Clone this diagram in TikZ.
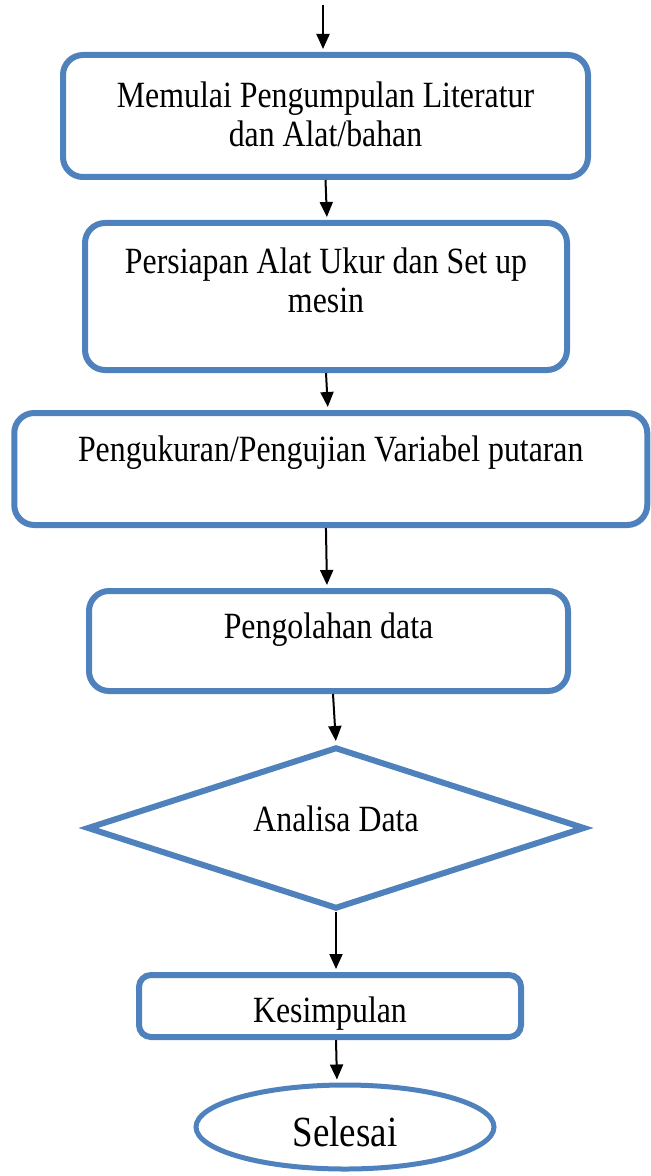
\documentclass[tikz,border=0pt]{standalone}
\usepackage{fontspec}
\setmainfont{Liberation Serif}[FakeStretch=0.86]
\usepackage{tikz}
\usetikzlibrary{arrows.meta,shapes}
\definecolor{biru}{RGB}{79,129,189}
\tikzstyle{panah}=[-{Triangle[length=7.5pt,width=6.5pt]}, line width=1pt, shorten >=1.5pt]

\begin{document}
\begin{tikzpicture}[x=0.5pt,y=-0.5pt,
          kotak/.style={rectangle,rounded corners=10pt,draw=biru,line width=3pt,align=center,
            inner sep=0pt,font=\fontsize{18.5pt}{19.5pt}\selectfont},
          ketupat/.style={diamond,draw=biru,line width=3pt,aspect=3.08,inner sep=0pt,
            font=\fontsize{18.5pt}{19.5pt}\selectfont},
          lonjong/.style={ellipse,draw=biru,line width=2.5pt,inner sep=0pt,
            font=\fontsize{21.5pt}{22pt}\selectfont}]
        \useasboundingbox (0,0) rectangle (651,1176);
        \coordinate (mulai) at (323,5);
        \node [kotak,minimum width=262.5pt,minimum height=61pt,text depth=1.5pt] (literatur) at (325.5,116)
          {Memulai Pengumpulan Literatur\\dan Alat/bahan};
        \node [kotak,minimum width=241pt,minimum height=73.5pt,text depth=16pt] (persiapan) at (326,296.5)
          {Persiapan Alat Ukur dan Set up\\mesin};
        \node [kotak,minimum width=316.5pt,minimum height=56pt,text height=18pt,text depth=25.5pt] (pengukuran) at (330.75,469)
          {Pengukuran/Pengujian Variabel putaran};
        \node [kotak,minimum width=239.5pt,minimum height=50pt,text height=16pt,text depth=18.5pt] (olah) at (328.5,641)
          {Pengolahan data};
        \node [ketupat,minimum width=249pt,minimum height=81pt,text height=16pt,text depth=12.5pt] (analisa) at (336,828)
          {Analisa Data};
        \node [kotak,rounded corners=6pt,minimum width=191pt,minimum height=31pt,text height=17pt,text depth=0.5pt] (simpul) at (330,1006)
          {Kesimpulan};
        \node [lonjong,minimum width=149pt,minimum height=42pt,text height=23pt,text depth=4pt] (selesai) at (345,1127)
          {Selesai};
        \draw [panah] (mulai) -- ([xshift=-1.25pt]literatur.north);
        \draw [panah] (literatur.south) -- ([xshift=0.5pt]persiapan.north);
        \draw [panah] (persiapan.south) -- ([xshift=-1.4pt]pengukuran.north);
        \draw [panah] ([xshift=-2.4pt]pengukuran.south) -- ([xshift=-0.75pt]olah.north);
        \draw [panah] ([xshift=2.25pt]olah.south) -- (analisa.north);
        \draw [panah] (analisa.south) -- ([xshift=3pt]simpul.north);
        \draw [panah] ([xshift=3pt]simpul.south) -- ([xshift=-4pt]selesai.north);
      \end{tikzpicture}
\end{document}
